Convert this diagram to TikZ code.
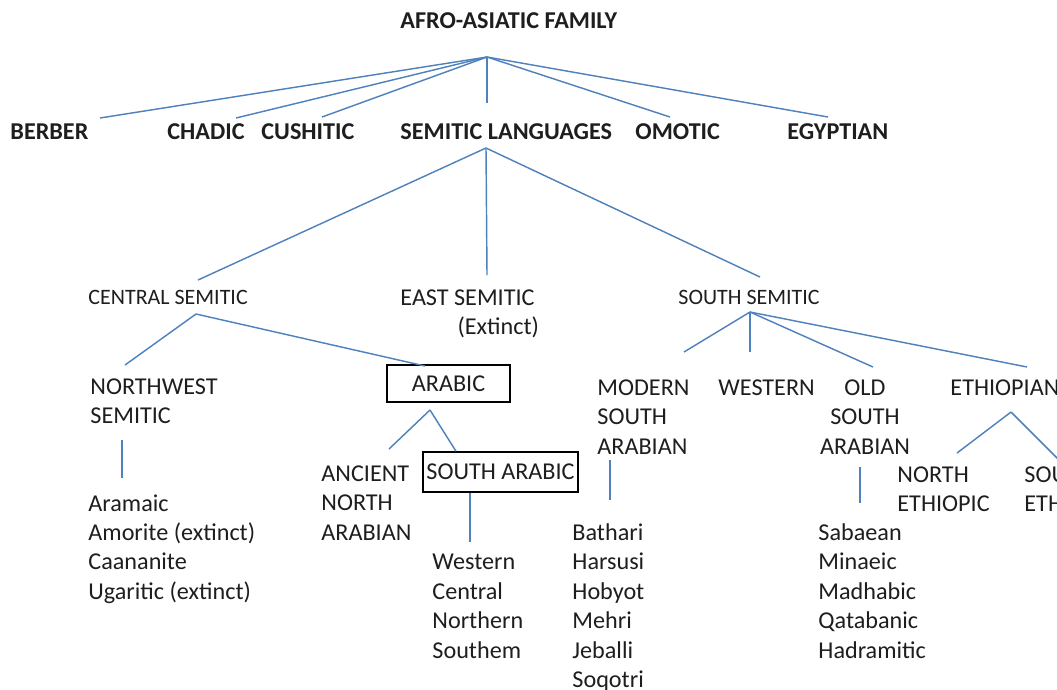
\documentclass[tikz,border=0pt]{standalone}
\usepackage{fontspec}
\setmainfont{Carlito}
\usepackage{tikz}
\definecolor{linkblue}{RGB}{79,129,189}
\definecolor{inkgrey}{RGB}{30,30,30}
\tikzset{
  lbl/.style={inner sep=0pt, anchor=base west, align=left, text=inkgrey,
    font=\fontsize{11}{13.4}\selectfont},
  stack/.style={lbl, anchor=north west},
  head/.style={lbl, font=\fontsize{11}{13.4}\selectfont\bfseries},
  small/.style={lbl, font=\fontsize{10}{12}\selectfont},
  boxed/.style={draw=black, line width=0.7pt, inner sep=0pt, text=inkgrey,
    font=\fontsize{11}{13.4}\selectfont},
  branch/.style={draw=linkblue, line width=0.65pt},
}

\begin{document}
\begin{tikzpicture}[x=0.455pt, y=-0.455pt]
    \path[use as bounding box] (0,0) rectangle (1057,689);
    \clip (0,0) rectangle (1057,689);
    \fill[white] (0,0) rectangle (1057,689);
    % Family and first branches
    \node[head] (family) at (400,28) {AFRO-ASIATIC FAMILY};
    \node[head] (berber) at (10,139) {BERBER};
    \node[head] (chadic) at (167,139) {CHADIC};
    \node[head] (cushitic) at (261,139) {CUSHITIC};
    \node[head] (semitic) at (400,139) {SEMITIC LANGUAGES};
    \node[head] (omotic) at (635,139) {OMOTIC};
    \node[head] (egyptian) at (787,139) {EGYPTIAN};
    % Semitic groups
    \node[small] (central) at (88,304) {CENTRAL SEMITIC};
    \node[stack] (east) at (400,289) {EAST SEMITIC\\\hspace*{26pt}(Extinct)};
    \node[small] (south) at (678,304) {SOUTH SEMITIC};
    % Central Semitic
    \node[stack] (northwest) at (90,378) {NORTHWEST\\SEMITIC};
    \node[boxed, minimum width=56pt, minimum height=16.8pt] (arabic) at (448.5,383.5) {ARABIC};
    \node[stack] (ancient) at (321,465) {ANCIENT\\NORTH\\ARABIAN};
    \node[boxed, minimum width=70.5pt, minimum height=18.2pt] (southarabic) at (500.5,472) {SOUTH ARABIC};
    \node[stack] (nwlist) at (88,494) {Aramaic\\Amorite (extinct)\\Caananite\\Ugaritic (extinct)};
    \node[stack] (salist) at (432,554) {Western\\Central\\Northern\\Southem};
    % South Semitic
    \node[stack] (modern) at (597,379) {MODERN\\SOUTH\\ARABIAN};
    \node[lbl] (western) at (718,395) {WESTERN};
    \node[stack, anchor=north, align=center] (old) at (865,379) {OLD\\SOUTH\\ARABIAN};
    \node[lbl] (ethiopian) at (950,395) {ETHIOPIAN};
    \node[stack] (northeth) at (897,466) {NORTH\\ETHIOPIC};
    \node[stack] (southeth) at (1024,466) {SOUTH\\ETHIOPIC};
    \node[stack] (msalist) at (572,523) {Bathari\\Harsusi\\Hobyot\\Mehri\\Jeballi\\Soqotri};
    \node[stack] (osalist) at (818,523) {Sabaean\\Minaeic\\Madhabic\\Qatabanic\\Hadramitic};
    % Hubs and line ends
    \coordinate (family-hub) at (487,57);
    \coordinate (semitic-hub) at (486,148);
    \coordinate (central-hub) at (196,314);
    \coordinate (arabic-hub) at (430,410);
    \coordinate (south-hub) at (750,312);
    \coordinate (ethiopian-hub) at (1011,412);
    \coordinate (berber-top) at (100,118);
    \coordinate (chadic-top) at (236,118);
    \coordinate (cushitic-top) at (322,117);
    \coordinate (semitic-top) at (487,103);
    \coordinate (omotic-top) at (670,117);
    \coordinate (egyptian-top) at (828,117);
    \coordinate (central-top) at (198,280);
    \coordinate (east-top) at (487,275);
    \coordinate (south-top) at (760,277);
    \coordinate (northwest-top) at (125,365);
    \coordinate (arabic-top) at (425,366);
    \coordinate (ancient-top) at (389,449);
    \coordinate (modern-top) at (684,352);
    \coordinate (western-top) at (750,352);
    \coordinate (old-top) at (873,367);
    \coordinate (ethiopian-top) at (1027,367);
    \coordinate (northeth-top) at (957,453);
    \coordinate (southeth-top) at (1070,471);
    % Connectors
    \draw[branch] (family-hub) -- (berber-top);
    \draw[branch] (family-hub) -- (chadic-top);
    \draw[branch] (family-hub) -- (cushitic-top);
    \draw[branch] (family-hub) -- (semitic-top);
    \draw[branch] (family-hub) -- (omotic-top);
    \draw[branch] (family-hub) -- (egyptian-top);
    \draw[branch] (semitic-hub) -- (central-top);
    \draw[branch] (semitic-hub) -- (east-top);
    \draw[branch] (semitic-hub) -- (south-top);
    \draw[branch] (central-hub) -- (northwest-top);
    \draw[branch] (central-hub) -- (arabic-top);
    \draw[branch] (arabic-hub) -- (ancient-top);
    \draw[branch] (arabic-hub) -- (southarabic.north -| 456,0);
    \draw[branch] (122,440) -- (122,478);
    \draw[branch] (southarabic.south -| 470,0) -- (470,542);
    \draw[branch] (south-hub) -- (modern-top);
    \draw[branch] (south-hub) -- (western-top);
    \draw[branch] (south-hub) -- (old-top);
    \draw[branch] (south-hub) -- (ethiopian-top);
    \draw[branch] (610,460) -- (610,500);
    \draw[branch] (860,467) -- (860,503);
    \draw[branch] (ethiopian-hub) -- (northeth-top);
    \draw[branch] (ethiopian-hub) -- (southeth-top);
\end{tikzpicture}
\end{document}
